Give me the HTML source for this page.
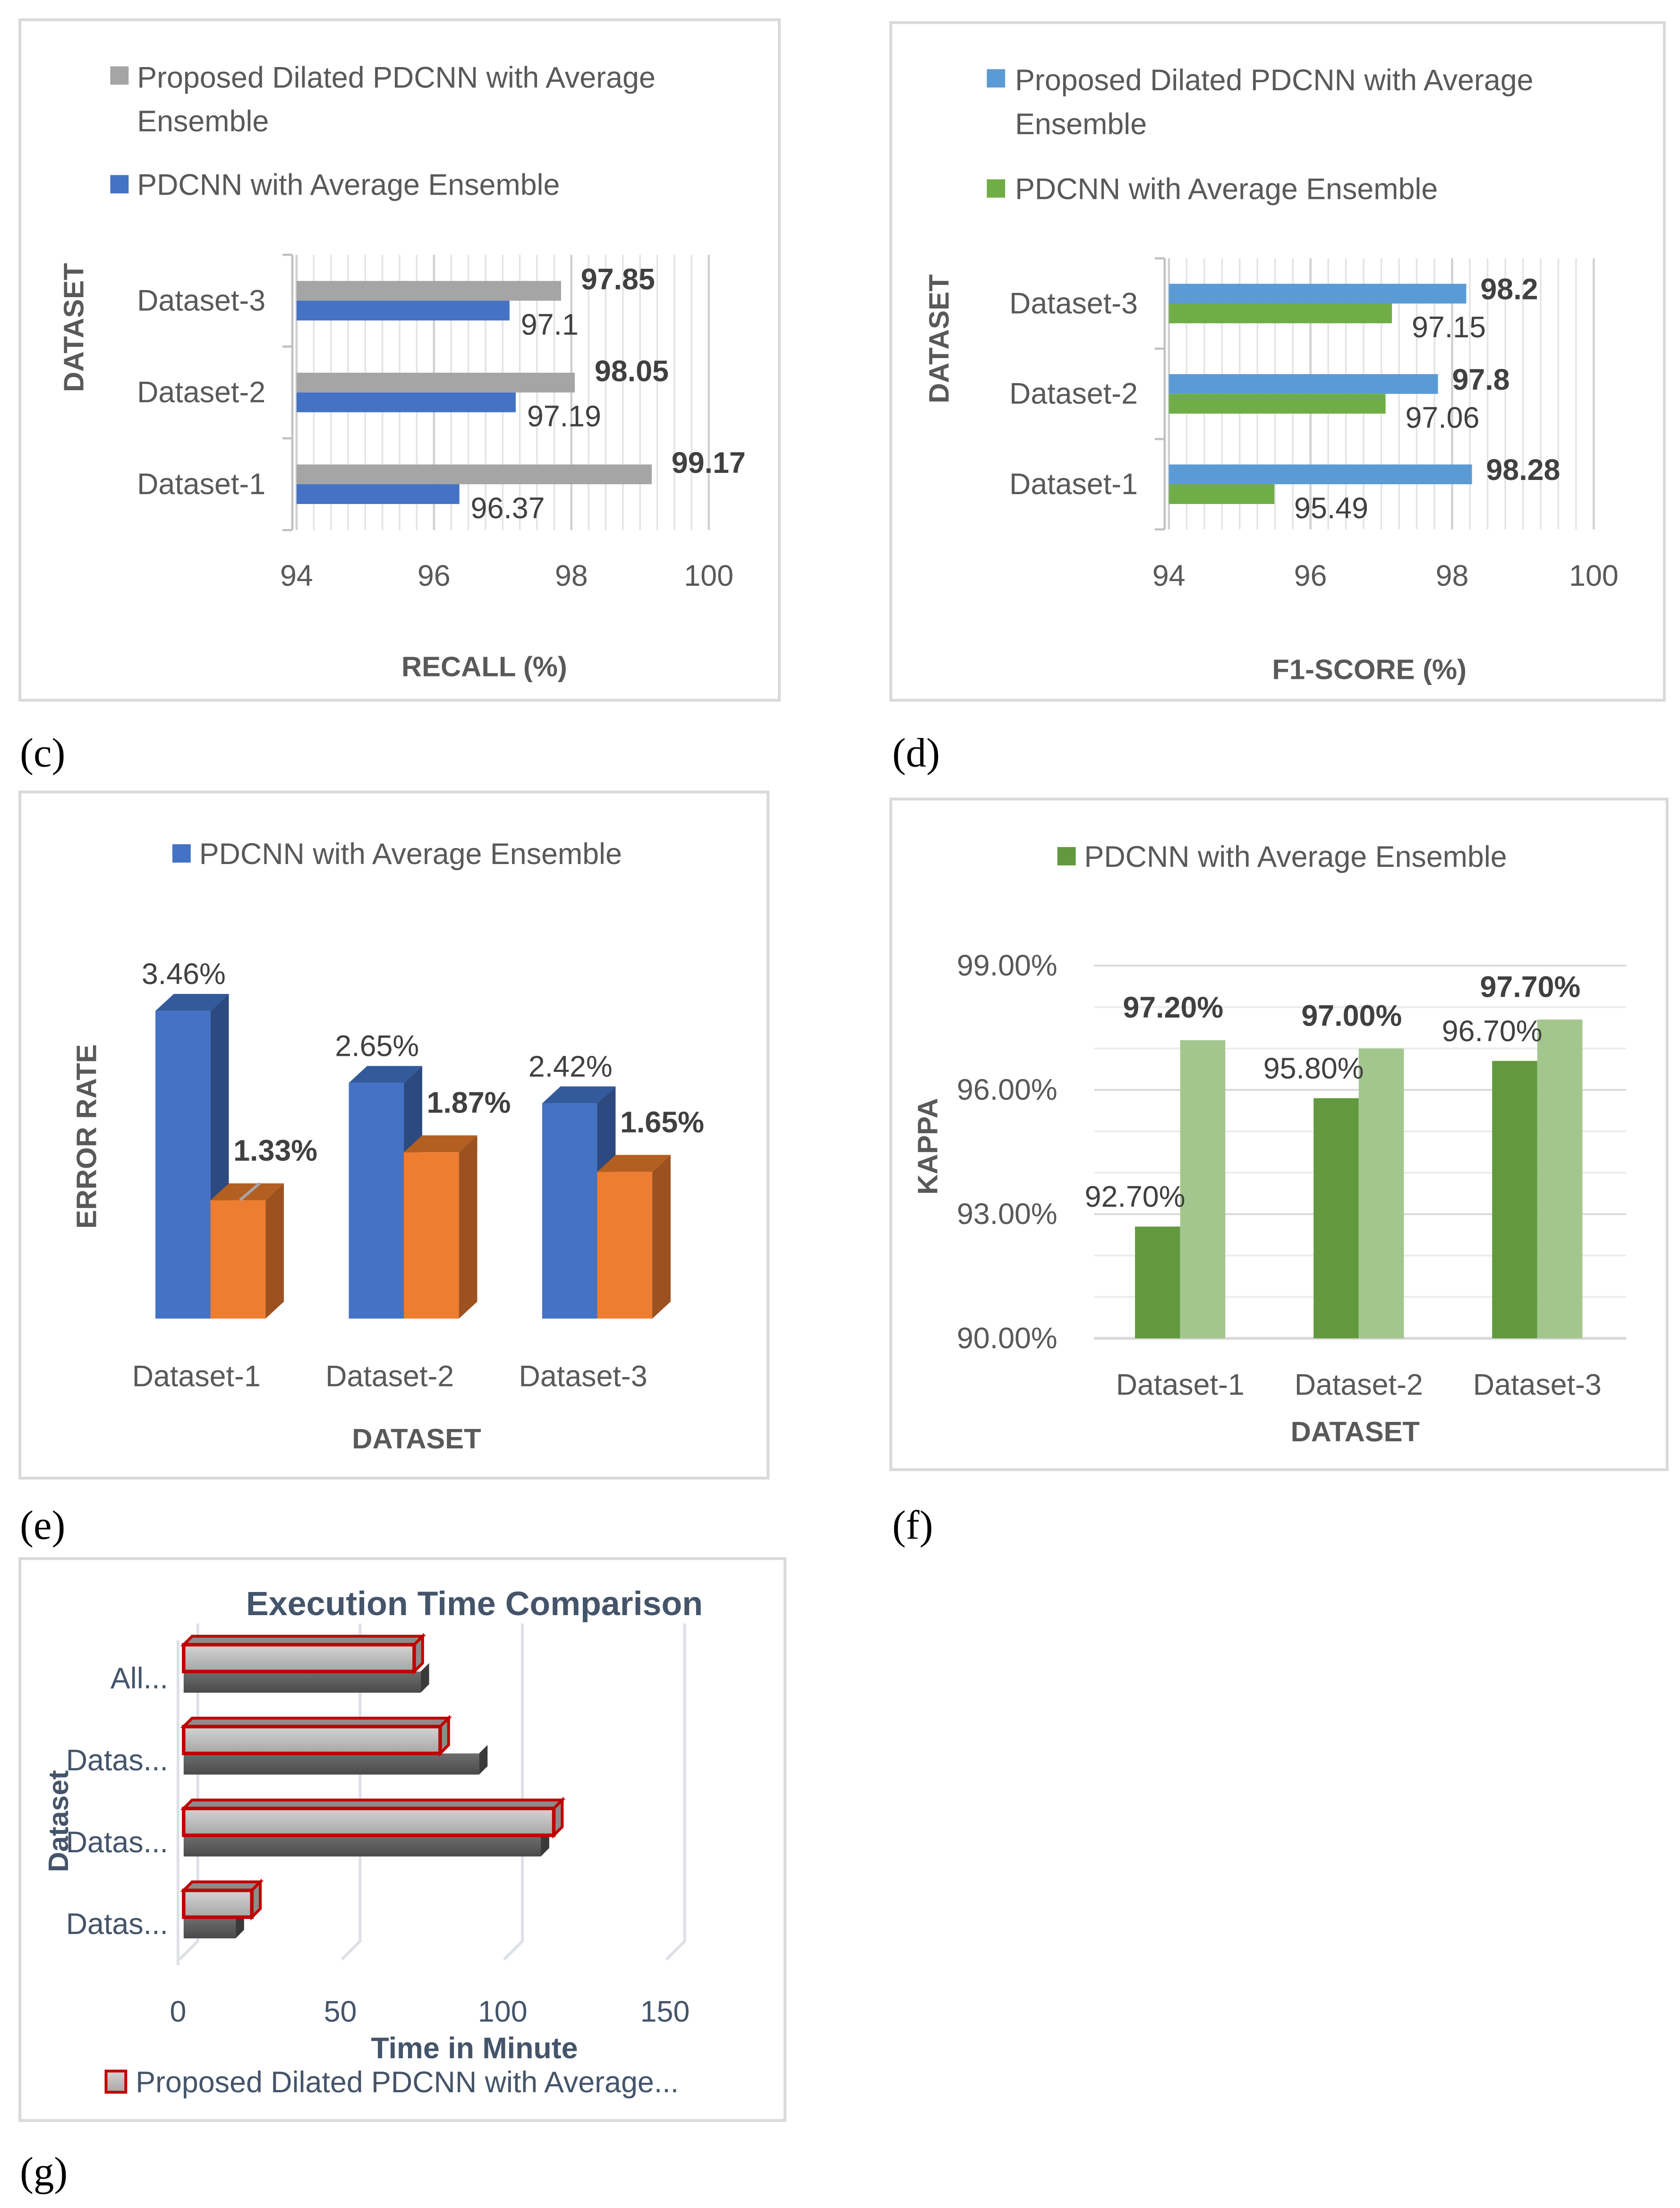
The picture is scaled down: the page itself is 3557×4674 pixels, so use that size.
<!DOCTYPE html>
<html><head><meta charset="utf-8"><style>
html,body{margin:0;padding:0;background:#fff}
svg{display:block}
text{font-family:"Liberation Sans",sans-serif}
</style></head><body>
<svg id="root" width="3557" height="4674" viewBox="0 0 1190 1564" xmlns="http://www.w3.org/2000/svg">
<defs>
<linearGradient id="gLight" x1="0" y1="0" x2="0" y2="1"><stop offset="0" stop-color="#d4d4d4"/><stop offset="1" stop-color="#a6a6a6"/></linearGradient>
<linearGradient id="gDark" x1="0" y1="0" x2="0" y2="1"><stop offset="0" stop-color="#6e6e6e"/><stop offset="1" stop-color="#4a4a4a"/></linearGradient>
</defs>
<rect width="1190" height="1564" fill="#fff"/>
<rect x="14" y="14" width="538" height="482" fill="none" stroke="#d9d9d9" stroke-width="2"/>
<rect x="631" y="16" width="548" height="480" fill="none" stroke="#d9d9d9" stroke-width="2"/>
<rect x="14" y="561" width="530" height="486" fill="none" stroke="#d9d9d9" stroke-width="2"/>
<rect x="631" y="566" width="550" height="475" fill="none" stroke="#d9d9d9" stroke-width="2"/>
<rect x="14" y="1104" width="542" height="398" fill="none" stroke="#d9d9d9" stroke-width="2"/>
<g font-size="29" fill="#000">
<text x="14" y="543" style="font-family:'Liberation Serif',serif">(c)</text>
<text x="632" y="543" style="font-family:'Liberation Serif',serif">(d)</text>
<text x="14" y="1090" style="font-family:'Liberation Serif',serif">(e)</text>
<text x="632" y="1090" style="font-family:'Liberation Serif',serif">(f)</text>
<text x="14" y="1548" style="font-family:'Liberation Serif',serif">(g)</text>
</g>
<rect x="78" y="47" width="13" height="13" fill="#a5a5a5"/>
<text x="97" y="62" font-size="21" fill="#595959">Proposed Dilated  PDCNN with Average</text>
<text x="97" y="93" font-size="21" fill="#595959">Ensemble</text>
<rect x="78" y="124" width="13" height="13" fill="#4472c4"/>
<text x="97" y="138" font-size="21" fill="#595959">PDCNN with Average Ensemble</text>
<text transform="translate(59,232) rotate(-90)" text-anchor="middle" font-size="20" font-weight="bold" fill="#595959">DATASET</text>
<text x="343" y="479" text-anchor="middle" font-size="20" font-weight="bold" fill="#595959">RECALL (%)</text>
<rect x="699" y="49" width="13" height="13" fill="#5b9bd5"/>
<text x="719" y="64" font-size="21" fill="#595959">Proposed Dilated  PDCNN with Average</text>
<text x="719" y="95" font-size="21" fill="#595959">Ensemble</text>
<rect x="699" y="127" width="13" height="13" fill="#70ad47"/>
<text x="719" y="141" font-size="21" fill="#595959">PDCNN with Average Ensemble</text>
<text transform="translate(672,240) rotate(-90)" text-anchor="middle" font-size="20" font-weight="bold" fill="#595959">DATASET</text>
<text x="970" y="481" text-anchor="middle" font-size="20" font-weight="bold" fill="#595959">F1-SCORE (%)</text>
<rect x="122" y="598" width="13" height="13" fill="#4472c4"/>
<text x="141" y="612" font-size="21" fill="#595959">PDCNN with Average Ensemble</text>
<text transform="translate(68,805) rotate(-90)" text-anchor="middle" font-size="20" font-weight="bold" fill="#595959">ERROR RATE</text>
<text x="295" y="1026" text-anchor="middle" font-size="20" font-weight="bold" fill="#595959">DATASET</text>
<rect x="749" y="600" width="13" height="13" fill="#62993e"/>
<text x="768" y="614" font-size="21" fill="#595959">PDCNN with Average Ensemble</text>
<text transform="translate(664,812) rotate(-90)" text-anchor="middle" font-size="20" font-weight="bold" fill="#595959">KAPPA</text>
<text x="960" y="1021" text-anchor="middle" font-size="20" font-weight="bold" fill="#595959">DATASET</text>
<text x="336" y="1144" text-anchor="middle" font-size="24" font-weight="bold" fill="#44546a">Execution Time Comparison</text>
<text transform="translate(48,1290) rotate(-90)" text-anchor="middle" font-size="20" font-weight="bold" fill="#44546a">Dataset</text>
<text x="336" y="1458" text-anchor="middle" font-size="21" font-weight="bold" fill="#44546a">Time in Minute</text>
<rect x="75" y="1467" width="14" height="15" fill="url(#gLight)" stroke="#c00000" stroke-width="2"/>
<text x="96" y="1482" font-size="21" fill="#44546a">Proposed Dilated PDCNN with Average...</text>
<g id="plots"></g>
</svg>
<script>
// ---- data ----
const cats = ['Dataset-1','Dataset-2','Dataset-3'];
const recallProposed = [99.17, 98.05, 97.85];
const recallBase = [96.37, 97.19, 97.1];
const f1Proposed = [98.28, 97.8, 98.2];
const f1Base = [95.49, 97.06, 97.15];
const hbarTicks = [94, 96, 98, 100];
const errBase = [3.46, 2.65, 2.42];
const errProposed = [1.33, 1.87, 1.65];
const kappaBase = [92.7, 95.8, 96.7];
const kappaProposed = [97.2, 97.0, 97.7];
const kappaTicks = [90, 93, 96, 99];
const timeCats = ['Datas...','Datas...','Datas...','All...'];
const timeProposed = [21, 114, 79, 71];
const timeBase = [16, 110, 91, 73];
const timeTicks = [0, 50, 100, 150];

const NS = 'http://www.w3.org/2000/svg';
const plots = document.getElementById('plots');
function mk(tag, attrs, parent) {
  const e = document.createElementNS(NS, tag);
  for (const k in attrs) e.setAttribute(k, attrs[k]);
  (parent || plots).appendChild(e);
  return e;
}

function hbarPanel(p) {
  const x = v => p.x0 + (v - 94) * p.k;
  const rowY = i => p.yBottom - i * p.step;
  for (let v = 94; v <= 100.001; v += 0.25) {
    const g = mk('line', {x1: x(v), x2: x(v), y1: p.yBottom - 2.5 * p.step, y2: p.yBottom + p.step / 2, stroke: '#e4e4e4', 'stroke-width': 1.2});
    
    
  }
  hbarTicks.forEach(t => {
    const g = mk('line', {x1: x(t), x2: x(t), y1: p.yBottom - 2.5 * p.step, y2: p.yBottom + p.step / 2, stroke: '#d0d0d0', 'stroke-width': 1.5});
    
    
    const tl = mk('text', {x: x(t), y: p.tickY, 'text-anchor': 'middle', 'font-size': 21, fill: '#595959'});
    tl.textContent = t;
    
    
  });
  const ax = mk('line', {x1: p.x0 - 3, x2: p.x0 - 3, y1: p.yBottom - 2.5 * p.step, y2: p.yBottom + p.step / 2, stroke: '#bfbfbf', 'stroke-width': 1.5});
  
  
  for (let i = 0; i <= 3; i++) {
    const tk = mk('line', {x1: p.x0 - 10, x2: p.x0 - 3, y1: p.yBottom + p.step / 2 - i * p.step, y2: p.yBottom + p.step / 2 - i * p.step, stroke: '#bfbfbf', 'stroke-width': 1.5});
    
    
  }
  cats.forEach((c, i) => {
    const cy = rowY(i);
    const cl = mk('text', {x: p.x0 - 22, y: cy + 7, 'text-anchor': 'end', 'font-size': 21, fill: '#595959'});
    cl.textContent = c;
    
    
    const b1 = mk('rect', {x: x(94), y: cy - 14, width: x(p.prop[i]) - x(94), height: 14, fill: p.c1});
    
    
    const b2 = mk('rect', {x: x(94), y: cy, width: x(p.base[i]) - x(94), height: 14, fill: p.c2});
    
    
    const l1 = mk('text', {x: x(p.prop[i]) + p.l1dx, y: cy + p.l1dy, 'font-size': 21, 'font-weight': 'bold', fill: '#404040'});
    l1.textContent = p.prop[i];
    
    
    const l2 = mk('text', {x: x(p.base[i]) + p.l2dx, y: cy + 24, 'font-size': 21, fill: '#404040'});
    l2.textContent = p.base[i];
    
    
  });
}
hbarPanel({x0: 210, k: 48.67, yBottom: 343, step: 65, tickY: 415, prop: recallProposed, base: recallBase, c1: '#a5a5a5', c2: '#4472c4', l1dx: 14, l1dy: -8, l2dx: 8});
hbarPanel({x0: 828, k: 50.17, yBottom: 343, step: 64, tickY: 415, prop: f1Proposed, base: f1Base, c1: '#5b9bd5', c2: '#70ad47', l1dx: 10, l1dy: -3, l2dx: 14});

(function () {
  const base = 934, k = 63, w = 39, dx = 13, dy = -12;
  const y = v => base - v * k;
  function col(x0, v, front, top, side, name) {
    const t = y(v);
    const s = mk('polygon', {points: `${x0 + w},${t} ${x0 + w + dx},${t + dy} ${x0 + w + dx},${base + dy} ${x0 + w},${base}`, fill: side});
    
    
    const tp = mk('polygon', {points: `${x0},${t} ${x0 + dx},${t + dy} ${x0 + w + dx},${t + dy} ${x0 + w},${t}`, fill: top});
    
    
    const f = mk('rect', {x: x0, y: t, width: w, height: base - t, fill: front});
    
    
  }
  cats.forEach((c, i) => {
    const gx = 110 + 137 * i;
    col(gx, errBase[i], '#4472c4', '#335a9b', '#2c4a7f', 'bar-error-base-' + (i + 1));
    col(gx + w, errProposed[i], '#ed7d31', '#b45f22', '#9c511f', 'bar-error-proposed-' + (i + 1));
    const l1 = mk('text', {x: gx + 20, y: y(errBase[i]) - 19, 'text-anchor': 'middle', 'font-size': 21, fill: '#404040'});
    l1.textContent = errBase[i].toFixed(2) + '%';
    
    
    const l2 = mk('text', {x: gx + w + 46, y: y(errProposed[i]) - 28, 'text-anchor': 'middle', 'font-size': 21, 'font-weight': 'bold', fill: '#404040'});
    l2.textContent = errProposed[i].toFixed(2) + '%';
    
    
    const cl = mk('text', {x: gx + 29, y: 982, 'text-anchor': 'middle', 'font-size': 21, fill: '#595959'});
    cl.textContent = c;
    
    
  });
  const ld = mk('line', {x1: 170, y1: 850, x2: 184, y2: 838, stroke: '#a6a6a6', 'stroke-width': 2});
  
  
})();

(function () {
  const y = v => 948 - (v - 90) * 29.33;
  for (let v = 90; v <= 99; v++) {
    const g = mk('line', {x1: 775, x2: 1152, y1: y(v), y2: y(v), stroke: v % 3 === 0 ? '#d9d9d9' : '#ececec', 'stroke-width': v === 90 ? 2 : 1.3});
    
    
  }
  kappaTicks.forEach(t => {
    const tl = mk('text', {x: 749, y: y(t) + 7, 'text-anchor': 'end', 'font-size': 21, fill: '#595959'});
    tl.textContent = t.toFixed(2) + '%';
    
    
  });
  cats.forEach((c, i) => {
    const cx = 836 + 126.5 * i;
    const b1 = mk('rect', {x: cx - 32, y: y(kappaBase[i]), width: 32, height: 948 - y(kappaBase[i]), fill: '#62993e'});
    
    
    const b2 = mk('rect', {x: cx, y: y(kappaProposed[i]), width: 32, height: 948 - y(kappaProposed[i]), fill: '#a3c68e'});
    
    
    const l1 = mk('text', {x: cx - 32, y: y(kappaBase[i]) - 14, 'text-anchor': 'middle', 'font-size': 21, fill: '#404040'});
    l1.textContent = kappaBase[i].toFixed(2) + '%';
    
    
    const l2 = mk('text', {x: cx - 5, y: y(kappaProposed[i]) - 16, 'text-anchor': 'middle', 'font-size': 21, 'font-weight': 'bold', fill: '#404040'});
    l2.textContent = kappaProposed[i].toFixed(2) + '%';
    
    
    const cl = mk('text', {x: cx, y: 988, 'text-anchor': 'middle', 'font-size': 21, fill: '#595959'});
    cl.textContent = c;
    
    
  });
})();

(function () {
  const x = v => 130 + v * 2.3;
  const d = 6;
  timeTicks.forEach(t => {
    const gx = x(t);
    const g = mk('polyline', {points: `${gx + 10},1150 ${gx + 10},1375 ${gx - 3},1388`, fill: 'none', stroke: '#dde0e6', 'stroke-width': 2});
    
    
    const tl = mk('text', {x: x(t) - 4, y: 1432, 'text-anchor': 'middle', 'font-size': 21, fill: '#44546a'});
    tl.textContent = t;
    
    
  });
  const ax = mk('line', {x1: 126, x2: 126, y1: 1162, y2: 1392, stroke: '#dde0e6', 'stroke-width': 2});
  
  
  timeCats.forEach((c, i) => {
    const cy = 1363 - i * 58;
    const x0 = x(0);
    const xb = x(timeBase[i]);
    const ds = mk('polygon', {points: `${xb},${cy - 5} ${xb + d},${cy - 11} ${xb + d},${cy + 4} ${xb},${cy + 10}`, fill: '#3a3a3a'});
    
    
    const db = mk('rect', {x: x0, y: cy - 5, width: xb - x0, height: 15, fill: 'url(#gDark)'});
    
    
    const xp = x(timeProposed[i]);
    const pt = mk('polygon', {points: `${x0},${cy - 24} ${x0 + d},${cy - 30} ${xp + d},${cy - 30} ${xp},${cy - 24}`, fill: '#8c8c8c', stroke: '#c00000', 'stroke-width': 2});
    
    
    const ps = mk('polygon', {points: `${xp},${cy - 24} ${xp + d},${cy - 30} ${xp + d},${cy - 11} ${xp},${cy - 5}`, fill: '#8c8c8c', stroke: '#c00000', 'stroke-width': 2});
    
    
    const pb = mk('rect', {x: x0, y: cy - 24, width: xp - x0, height: 19, fill: 'url(#gLight)', stroke: '#c00000', 'stroke-width': 2.5});
    
    
    const cl = mk('text', {x: 119, y: cy + 7, 'text-anchor': 'end', 'font-size': 21, fill: '#44546a'});
    cl.textContent = c;
    
    
  });
})();
</script>
</body></html>
